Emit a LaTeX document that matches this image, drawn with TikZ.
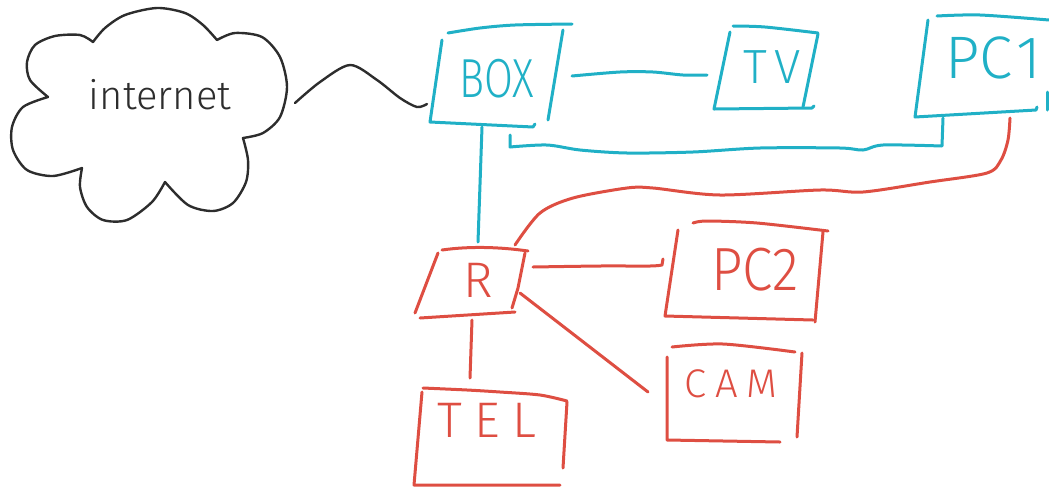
\documentclass[tikz,border=0pt]{standalone}
\usepackage{fontspec}
\setmainfont{Fira Sans}[UprightFont=* Light]
\usepackage{graphicx}
\definecolor{netcyan}{RGB}{32,176,198}
\definecolor{netred}{RGB}{222,78,66}
\definecolor{ink}{RGB}{45,45,45}
\tikzset{
  pen/.style={line width=3pt, line cap=round, line join=round},
  cpen/.style={pen, draw=netcyan},
  rpen/.style={pen, draw=netred},
  kpen/.style={pen, draw=ink, line width=2.4pt},
  lbl/.style={inner sep=0pt, anchor=center},
  clbl/.style={lbl, text=netcyan},
  rlbl/.style={lbl, text=netred},
  klbl/.style={lbl, text=ink},
}
\begin{document}
\begin{tikzpicture}[x=1pt, y=-1pt]
\path[use as bounding box] (0,0) rectangle (1049,491);

% ---------- labels ----------
\node[klbl, font=\fontsize{40}{44}\selectfont] (net) at (160,95) {internet};
\node[clbl, font=\fontsize{55}{60}\selectfont] (box) at (497,79) {\scalebox{0.76}[1]{BOX}};
\node[clbl, font=\fontsize{48}{52}\selectfont] (tv) at (772,67) {T\hspace{8pt}V};
\node[clbl, font=\fontsize{60}{64}\selectfont] (pc1) at (993,58) {PC\hspace{4pt}1};
\node[rlbl, font=\fontsize{50}{54}\selectfont] (r) at (478,280) {R};
\node[rlbl, font=\fontsize{61}{66}\selectfont] (pc2) at (755,270) {\scalebox{0.9}[1]{PC2}};
\node[rlbl, font=\fontsize{40}{44}\selectfont] (cam) at (731,384) {C\hspace{9pt}A\hspace{9pt}M};
\node[rlbl, font=\fontsize{50}{54}\selectfont] (tel) at (487,420) {T\hspace{12pt}E\hspace{12pt}L};

% ---------- cloud ----------
\draw[kpen]
  plot[smooth] coordinates {(48,97) (30,80) (27,62) (35,45) (55,36) (80,35) (93,42)}
  -- plot[smooth] coordinates {(93,42) (105,28) (125,15) (157,8) (185,13) (203,25) (217,40)}
  -- plot[smooth] coordinates {(217,40) (235,33) (262,37) (280,57) (287,87) (280,117) (263,133) (243,138)}
  -- plot[smooth] coordinates {(243,138) (248,160) (246,182) (233,203) (213,211) (188,205) (165,182)}
  -- plot[smooth] coordinates {(165,182) (152,202) (127,220) (103,220) (87,207) (80,187) (82,168)}
  -- plot[smooth] coordinates {(82,168) (53,176) (27,170) (13,150) (12,127) (23,107) (48,97)};

% ---------- boxes ----------
% BOX
\draw[cpen] plot[smooth] coordinates {(448,33) (480,28) (515,25) (572,24)};
\draw[cpen] (442,40) -- (430,122) -- (533,127) -- (535,124);
\draw[cpen] (563,30) -- (548,120);
% TV
\draw[cpen] plot[smooth] coordinates {(733,26) (765,27) (818,33)};
\draw[cpen] (730,32) -- (714,109) -- (812,108) -- (814,106);
\draw[cpen] (818,34) -- (803,107);
% PC1
\draw[cpen] plot[smooth] coordinates {(937,16) (980,15) (1049,20)};
\draw[cpen] (928,20) -- (915,117) -- (1036,110) -- (1037,107);
\draw[cpen] (1047,92) -- (1047,110);
% R
\draw[rpen] (442,250) .. controls (470,246) and (500,247) .. (528,251);
\draw[rpen] (438,253) -- (415,313);
\draw[rpen] (525,253) -- (518,288) -- (512,308);
\draw[rpen] (420,318) -- (515,312);
% TEL
\draw[rpen] plot[smooth] coordinates {(423,388) (467,390) (500,392) (540,395) (567,401)};
\draw[rpen] (422,392) -- (414,485) -- (560,485);
\draw[rpen] (567,402) -- (563,468);
% PC2
\draw[rpen] plot[smooth] coordinates {(693,223) (707,221) (757,223) (828,231)};
\draw[rpen] (678,230) -- (665,316) -- (813,320);
\draw[rpen] (823,232) -- (815,322);
% CAM
\draw[rpen] plot[smooth] coordinates {(672,347) (723,344) (795,352)};
\draw[rpen] (667,357) -- (667,440) -- (780,442);
\draw[rpen] (802,353) -- (797,437);

% ---------- connector ends ----------
\coordinate (net-e) at (295,103);
\coordinate (box-w) at (427,104);
\coordinate (box-e) at (572,76);
\coordinate (tv-w) at (707,75);
\coordinate (box-s) at (482,127);
\coordinate (r-n) at (478,242);
\coordinate (box-se) at (510,135);
\coordinate (pc1-sw) at (943,118);
\coordinate (pc1-se) at (1010,118);
\coordinate (r-ne) at (515,245);
\coordinate (r-e) at (533,267);
\coordinate (pc2-w) at (662,265);
\coordinate (r-se) at (520,293);
\coordinate (cam-w) at (648,392);
\coordinate (r-s) at (472,320);
\coordinate (tel-n) at (470,378);

% ---------- connectors ----------
\draw[kpen] plot[smooth] coordinates {(net-e) (320,82) (350,65) (377,80) (400,98) (417,107) (box-w)};
\draw[cpen] plot[smooth] coordinates {(box-e) (620,72) (653,72) (683,75) (tv-w)};
\draw[cpen] (box-s) -- (r-n);
\draw[cpen] (box-se) -- (510,147)
  -- plot[smooth] coordinates {(510,147) (547,145) (580,150) (627,153) (693,152) (760,148) (840,148) (863,150) (883,145) (942,146)}
  -- (pc1-sw);
\draw[rpen] plot[smooth] coordinates {(pc1-se) (1008,140) (1001,160) (987,173) (930,182) (863,192) (820,190) (720,195) (653,188) (627,188) (573,198) (540,213) (r-ne)};
\draw[rpen] plot[smooth] coordinates {(r-e) (600,266) (650,266) (pc2-w)} -- (663,259);
\draw[rpen] (r-se) -- (cam-w);
\draw[rpen] (r-s) -- (tel-n);
\end{tikzpicture}
\end{document}
